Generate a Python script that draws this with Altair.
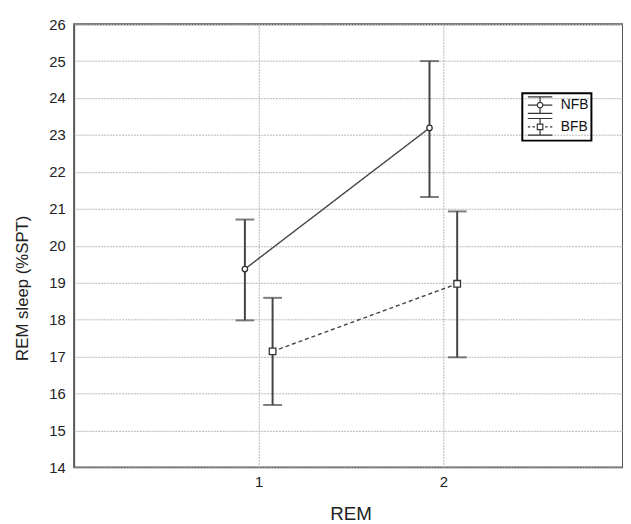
import altair as alt
import pandas as pd

# ---- data ----
rem = [1, 2]
groups = ["NFB", "BFB"]
nfb_mean = [19.37, 23.19]
nfb_low = [17.98, 21.32]
nfb_high = [20.71, 25.00]
bfb_mean = [17.14, 18.97]
bfb_low = [15.69, 16.98]
bfb_high = [18.59, 20.93]
y_ticks = list(range(14, 27))
x_ticks = [1, 2]

rows = []
for g, m, lo, hi in [("NFB", nfb_mean, nfb_low, nfb_high),
                     ("BFB", bfb_mean, bfb_low, bfb_high)]:
    for r, mv, l, h in zip(rem, m, lo, hi):
        rows.append(dict(group=g, rem=r, mean=mv, low=l, high=h))
df = pd.DataFrame(rows)

FONT = "Liberation Sans"
INK = "#444444"

W, H = 556, 449

base = alt.Chart(df).transform_calculate(
    xpos="datum.rem + (datum.group == 'NFB' ? -0.075 : 0.075)"
)

x_scale = alt.Scale(domain=[0, W / 187.0], nice=False, zero=False)
x_axis = alt.Axis(
    values=x_ticks, title="REM", grid=True, domain=False, ticks=False,
    labelPadding=7, labelFontSize=15, titleFontSize=19, labelOverlap=False,
    titleX=280, titleY=47, titleBaseline="middle", titleAlign="center",
    format="d",
)
y_scale = alt.Scale(domain=[14, 26], nice=False, zero=False)
y_axis = alt.Axis(
    values=y_ticks, title="REM sleep (%SPT)", grid=True, domain=False,
    ticks=False, labelPadding=9, labelFontSize=15, titleFontSize=17,
    labelOverlap=False, format="d",
    titleX=-52, titleY=267, titleAngle=-90, titleBaseline="middle",
    titleAlign="center",
)


def X(field="xpos:Q"):
    return alt.X(field, scale=x_scale, axis=x_axis)


def Y(field):
    return alt.Y(field, scale=y_scale, axis=y_axis)


lines = base.mark_line(color=INK, strokeWidth=1.4).encode(
    x=X(),
    y=Y("mean:Q"),
    detail="group:N",
    strokeDash=alt.StrokeDash(
        "group:N",
        scale=alt.Scale(domain=groups, range=[[1, 0], [4, 3]]),
        legend=None,
    ),
)

bars = base.mark_rule(color=INK, strokeWidth=2).encode(
    x=X(), y=Y("low:Q"), y2="high:Q"
)
cap_lo = base.mark_tick(orient="horizontal", size=19, thickness=2, color=INK).encode(
    x=X(), y=Y("low:Q")
)
cap_hi = base.mark_tick(orient="horizontal", size=19, thickness=2, color=INK).encode(
    x=X(), y=Y("high:Q")
)

points = base.mark_point(
    filled=True, fill="white", stroke="#333333", strokeWidth=1.3, opacity=1
).encode(
    x=X(),
    y=Y("mean:Q"),
    shape=alt.Shape(
        "group:N",
        scale=alt.Scale(domain=groups, range=["circle", "square"]),
        legend=None,
    ),
    size=alt.Size(
        "group:N", scale=alt.Scale(domain=groups, range=[30, 45]), legend=None
    ),
)

# legend glyphs: error bar with marker (path units scaled by sqrt(size)/2 = 8px)
nfb_glyph = (
    "M-1.55,-1.05H1.55M-1.55,1.05H1.55M0,-1.05V-0.35M0,0.35V1.05"
    "M-1.55,0H-0.35M0.35,0H1.55"
    "M0.35,0A0.35,0.35 0 1 1 -0.35,0A0.35,0.35 0 1 1 0.35,0Z"
)
bfb_glyph = (
    "M-1.55,-1.05H1.55M-1.55,1.05H1.55M0,-1.05V-0.35M0,0.35V1.05"
    "M-1.55,0H-1.25M-0.95,0H-0.65M0.65,0H0.95M1.25,0H1.55"
    "M-0.35,-0.35H0.35V0.35H-0.35Z"
)

legend_layer = alt.Chart(df).transform_filter("false").mark_point(
    filled=False, color="#333333", strokeWidth=1.2, opacity=1
).encode(
    x=X("rem:Q"),
    y=Y("mean:Q"),
    shape=alt.Shape(
        "group:N",
        scale=alt.Scale(domain=groups, range=[nfb_glyph, bfb_glyph]),
        legend=alt.Legend(
            title=None, orient="none", legendX=454, legendY=70,
            symbolSize=256, labelFontSize=14, labelOffset=12,
            symbolOffset=6, padding=3, rowPadding=0, strokeColor="black",
            symbolStrokeColor="#333333", symbolStrokeWidth=1.2,
        ),
    ),
)

chart = (
    alt.layer(lines, bars, cap_lo, cap_hi, points, legend_layer)
    .resolve_scale(shape="independent", size="independent")
    .properties(
        width=W, height=H,
        autosize=alt.AutoSizeParams(type="none"),
        padding={"left": 67, "top": 13, "right": 0, "bottom": 54},
        background="white",
    )
    .configure_view(stroke="#555555", strokeWidth=2)
    .configure_axis(
        labelFont=FONT, titleFont=FONT, labelColor="#222222",
        titleColor="#222222", titleFontWeight="normal",
        gridColor="#b5b5b5", gridDash=[2, 1], gridWidth=1,
    )
    .configure_legend(labelFont=FONT, labelColor="#111111", strokeWidth=2)
)

chart.save("out.html", embed_options={"renderer": "svg", "actions": False})
